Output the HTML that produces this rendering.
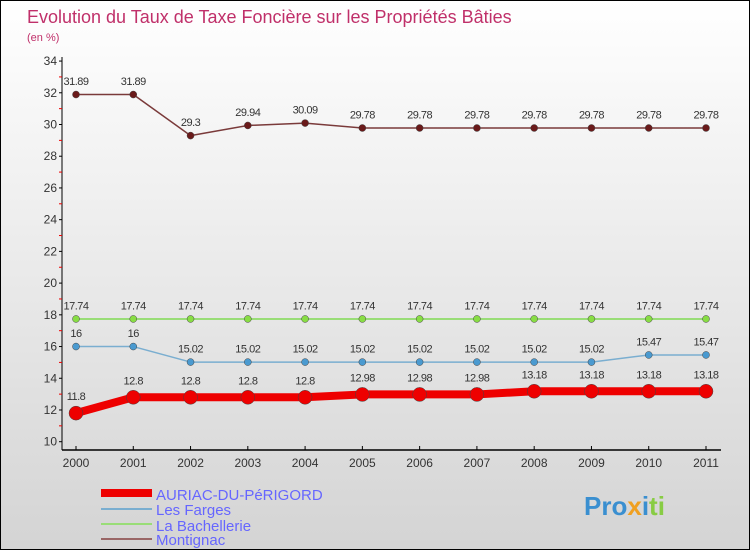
<!DOCTYPE html>
<html><head><meta charset="utf-8"><style>
body{margin:0}
#c{position:relative;width:748px;height:548px;border:1px solid #000;background:linear-gradient(#ffffff,#d4d4d4);font-family:"Liberation Sans",sans-serif;overflow:hidden}
text{font-family:"Liberation Sans",sans-serif}
</style></head><body>
<div id="c">
<svg id="s" width="748" height="548">
<text x="26" y="22" font-size="18" fill="#c0306a">Evolution du Taux de Taxe Foncière sur les Propriétés Bâties</text>
<text x="26" y="40" font-size="11" fill="#c0306a">(en %)</text>
<g id="axes"></g><g id="series"></g>
<g>
<rect x="100" y="488" width="51" height="8" fill="#e00"/>
<text x="155" y="499" font-size="15" fill="#6666ff">AURIAC-DU-PéRIGORD</text>
<rect x="100" y="507" width="51" height="2" fill="#7aaed0"/>
<text x="155" y="514" font-size="15" fill="#6666ff">Les Farges</text>
<rect x="100" y="522" width="51" height="2" fill="#99dd77"/>
<text x="155" y="530" font-size="15" fill="#6666ff">La Bachellerie</text>
<rect x="100" y="537" width="51" height="2" fill="#996666"/>
<text x="155" y="544" font-size="15" fill="#6666ff">Montignac</text>
</g>
<text x="583" y="514" font-size="26" font-weight="bold" fill="#3a8fd0">Pro<tspan fill="#f0a020">x</tspan><tspan fill="#3a8fd0">i</tspan><tspan fill="#88cc44">ti</tspan></text>
</svg></div>
<script>
const years=[2000,2001,2002,2003,2004,2005,2006,2007,2008,2009,2010,2011];
const auriac=[11.8,12.8,12.8,12.8,12.8,12.98,12.98,12.98,13.18,13.18,13.18,13.18];
const lesFarges=[16,16,15.02,15.02,15.02,15.02,15.02,15.02,15.02,15.02,15.47,15.47];
const bachellerie=[17.74,17.74,17.74,17.74,17.74,17.74,17.74,17.74,17.74,17.74,17.74,17.74];
const montignac=[31.89,31.89,29.3,29.94,30.09,29.78,29.78,29.78,29.78,29.78,29.78,29.78];
const yTicks=[10,12,14,16,18,20,22,24,26,28,30,32,34];
const NS="http://www.w3.org/2000/svg";
const X=i=>75+i*(705-75)/(years.length-1);
const Y=v=>440.7-(v-10)*15.86;
function mk(p,t,a){const e=document.createElementNS(NS,t);for(const k in a)e.setAttribute(k,a[k]);p.appendChild(e);return e;}
const ax=document.getElementById('axes');
let l=mk(ax,'line',{x1:61,y1:56,x2:61,y2:449,stroke:'#000'});


l=mk(ax,'line',{x1:61,y1:449,x2:720,y2:449,stroke:'#000','stroke-width':1.5});


yTicks.forEach(v=>{
 mk(ax,'line',{x1:58,y1:Y(v),x2:61,y2:Y(v),stroke:'#000'});
 if(v<34)mk(ax,'line',{x1:58,y1:Y(v+1),x2:61,y2:Y(v+1),stroke:'#e00'});
 const t=mk(ax,'text',{x:56,y:Y(v)+4,'font-size':12,'text-anchor':'end',fill:'#333'});
 t.textContent=v;
 
 
});
years.forEach((y,i)=>{
 mk(ax,'line',{x1:X(i),y1:445,x2:X(i),y2:449,stroke:'#000'});
 const t=mk(ax,'text',{x:X(i),y:466,'font-size':12,'text-anchor':'middle',fill:'#333'});
 t.textContent=y;
 
 
});
const sg=document.getElementById('series');
function series(data,name,color,lw,r,fill){
 const g=mk(sg,'g',{});
 
 
 const p=mk(g,'polyline',{points:data.map((v,i)=>X(i)+','+Y(v)).join(' '),fill:'none',stroke:color,'stroke-width':lw,'stroke-linejoin':'round'});
 
 
 data.forEach((v,i)=>{
  const c=mk(g,'circle',{cx:X(i),cy:Y(v),r:r,fill:fill,stroke:'#444','stroke-width':0.5});
  
  
  const t=mk(g,'text',{x:X(i),y:Y(v)-(r+6),'font-size':11,'text-anchor':'middle',fill:'#333','letter-spacing':'-0.5'});
  t.textContent=v;
  
  
 });
}
series(montignac,'montignac','#7a3a3a',1.5,3.5,'#6a1a1a');
series(bachellerie,'la-bachellerie','#99dd77',2,3.5,'#88dd44');
series(lesFarges,'les-farges','#7aaed0',1.5,3.5,'#4a9ad0');
series(auriac,'auriac','#ee0000',8,7,'#ee0000');
</script>
</body></html>
